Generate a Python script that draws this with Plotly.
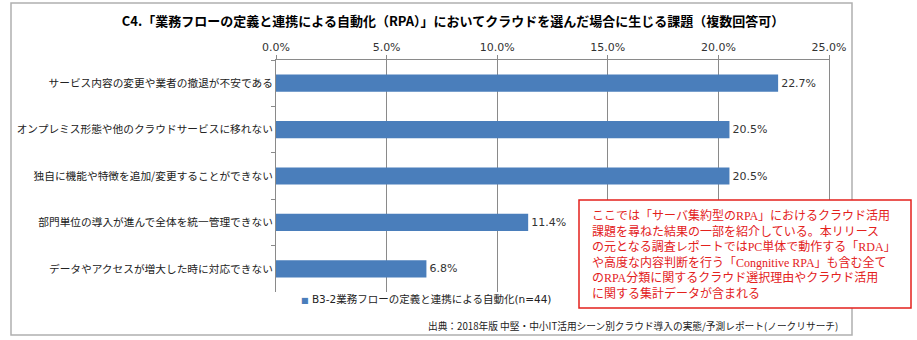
import plotly.graph_objects as go

# ---- data ----
categories = [
    "サービス内容の変更や業者の撤退が不安である",
    "オンプレミス形態や他のクラウドサービスに移れない",
    "独自に機能や特徴を追加/変更することができない",
    "部門単位の導入が進んで全体を統一管理できない",
    "データやアクセスが増大した時に対応できない",
]
values = [22.7, 20.5, 20.5, 11.4, 6.8]
series_name = "B3-2業務フローの定義と連携による自動化(n=44)"
title_text = "C4.「業務フローの定義と連携による自動化（RPA）」においてクラウドを選んだ場合に生じる課題（複数回答可）"
source_text = "出典：2018年版 中堅・中小IT活用シーン別クラウド導入の実態/予測レポート(ノークリサーチ)"
note_lines = [
    "ここでは「サーバ集約型のRPA」におけるクラウド活用",
    "課題を尋ねた結果の一部を紹介している。本リリース",
    "の元となる調査レポートではPC単体で動作する「RDA」",
    "や高度な内容判断を行う「Congnitive RPA」も含む全て",
    "のRPA分類に関するクラウド選択理由やクラウド活用",
    "に関する集計データが含まれる",
]

# ---- layout geometry (pixels) ----
W, H = 917, 340
L, R, T, B = 276, 829, 60, 292


def px(x):
    return (x - L) / (R - L)


def py(y):
    return (B - y) / (B - T)


BLUE = "#4a7ebb"
GRID = "#8a8a8a"
RED = "#e3211c"
JP = "Noto Sans CJK JP"
LAT = "DejaVu Sans"

fig = go.Figure()
fig.add_trace(go.Bar(
    x=values,
    y=categories,
    orientation="h",
    name=series_name,
    marker=dict(color=BLUE, line=dict(width=0)),
    text=[f"{v:.1f}%" for v in values],
    textposition="outside",
    textfont=dict(family=LAT, size=11, color="#333333"),
    cliponaxis=False,
    showlegend=False,
))

fig.update_layout(
    width=W, height=H,
    margin=dict(l=L, r=W - R, t=T, b=H - B),
    paper_bgcolor="white",
    plot_bgcolor="white",
    bargap=0.63,
    title=dict(
        text=title_text,
        font=dict(family=JP, size=13, color="#000000", weight="bold"),
        x=453 / W, xref="container", xanchor="center",
        y=1 - 21 / H, yref="container", yanchor="middle",
    ),
    xaxis=dict(
        side="top",
        range=[0, 25],
        dtick=5,
        tickformat=".1f",
        ticksuffix="%",
        showgrid=True,
        gridcolor=GRID,
        gridwidth=1,
        zeroline=False,
        showline=True,
        linecolor=GRID,
        linewidth=1,
        ticks="outside",
        ticklen=4,
        tickcolor=GRID,
        tickfont=dict(family=LAT, size=11, color="#333333"),
        fixedrange=True,
    ),
    yaxis=dict(
        autorange="reversed",
        tickson="boundaries",
        ticks="outside",
        ticklen=4,
        tickcolor=GRID,
        showline=True,
        mirror=True,
        linecolor=GRID,
        linewidth=1,
        showgrid=False,
        tickfont=dict(family=JP, size=10.7, color="#222222"),
        fixedrange=True,
    ),
)

# outer frame
fig.add_shape(type="rect", xref="paper", yref="paper",
              x0=px(11), x1=px(852), y0=py(335), y1=py(3),
              line=dict(color="#b0b0b0", width=1.5), fillcolor="rgba(0,0,0,0)",
              layer="below")

# red note box
fig.add_shape(type="rect", xref="paper", yref="paper",
              x0=px(579), x1=px(911), y0=py(308), y1=py(200),
              line=dict(color=RED, width=1.5), fillcolor="white",
              layer="above")

fig.add_annotation(
    xref="paper", yref="paper",
    x=px(590), y=py(255), xanchor="left", yanchor="middle",
    text="<br>".join(note_lines), align="left", showarrow=False,
    font=dict(family="Liberation Serif, " + JP, size=12, color=RED),
)

# legend (manual)
fig.add_annotation(
    xref="paper", yref="paper",
    x=px(299), y=py(299), xanchor="left", yanchor="middle",
    text=f'<span style="color:{BLUE};font-size:8px">■</span> {series_name}',
    showarrow=False,
    font=dict(family=LAT + ", " + JP, size=10.5, color="#222222"),
)

# source
fig.add_annotation(
    xref="paper", yref="paper",
    x=px(840), y=py(326), xanchor="right", yanchor="middle",
    text=source_text, showarrow=False,
    font=dict(family=JP, size=9.7, color="#222222"),
)

fig.write_html("out.html")
